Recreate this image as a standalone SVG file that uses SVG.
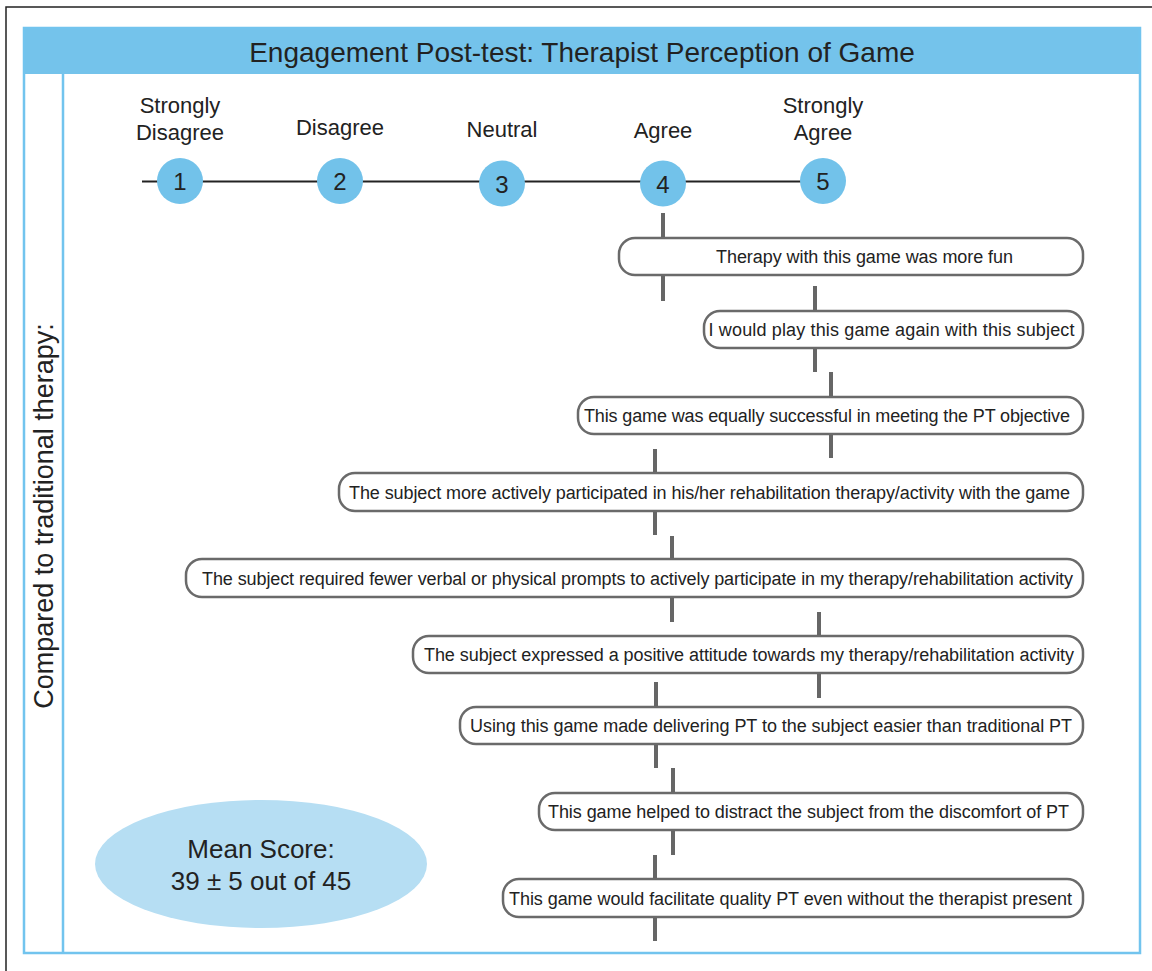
<svg xmlns="http://www.w3.org/2000/svg" width="1152" height="971" viewBox="0 0 1152 971">
<style>
text{font-family:"Liberation Sans",Arial,sans-serif;fill:#222}
.frame{fill:none;stroke:#72c4ee;stroke-width:2.5}
.circ{fill:#72c2ea}
.num{font-size:24px;text-anchor:middle}
.lab{font-size:22px;text-anchor:middle}
.box{fill:#fff;stroke:#6a6a6a;stroke-width:2.5}
.bt{font-size:18px;text-anchor:middle}
.tick{stroke:#666;stroke-width:4;fill:none}
</style>
<rect width="1152" height="971" fill="#fff"/>
<path d="M6,971 V7 H1152" fill="none" stroke="#222" stroke-width="1.5"/>
<g id="header">
<rect x="24" y="28" width="1116" height="46" fill="#74c3eb"/>
<text x="582" y="62" font-size="28" text-anchor="middle">Engagement Post-test: Therapist Perception of Game</text>
</g>
<g id="frame">
<rect class="frame" x="24" y="28" width="1116" height="925"/>
<line class="frame" x1="63" y1="74" x2="63" y2="953"/>
<text transform="translate(53,516) rotate(-90)" font-size="27" text-anchor="middle">Compared to traditional therapy:</text>
</g>
<g id="scale">
<line x1="142" y1="181.5" x2="823" y2="181.5" stroke="#222" stroke-width="2"/>
<g id="pt1"><circle class="circ" cx="180" cy="181" r="23"/><text class="num" x="180" y="190">1</text>
<text class="lab" x="180" y="113">Strongly</text><text class="lab" x="180" y="140">Disagree</text></g>
<g id="pt2"><circle class="circ" cx="340" cy="181" r="23"/><text class="num" x="340" y="190">2</text>
<text class="lab" x="340" y="135">Disagree</text></g>
<g id="pt3"><circle class="circ" cx="502" cy="183.5" r="23"/><text class="num" x="502" y="192.5">3</text>
<text class="lab" x="502" y="137">Neutral</text></g>
<g id="pt4"><circle class="circ" cx="663" cy="183.5" r="23"/><text class="num" x="663" y="192.5">4</text>
<text class="lab" x="663" y="138">Agree</text></g>
<g id="pt5"><circle class="circ" cx="823" cy="181" r="23"/><text class="num" x="823" y="190">5</text>
<text class="lab" x="823" y="113">Strongly</text><text class="lab" x="823" y="140">Agree</text></g>
</g>
<g id="connectors">
<line class="tick" x1="663" y1="213" x2="663" y2="238"/>
<line class="tick" x1="663" y1="275" x2="663" y2="301"/>
<line class="tick" x1="815" y1="286" x2="815" y2="311"/>
<line class="tick" x1="815" y1="348" x2="815" y2="372"/>
<line class="tick" x1="831" y1="372" x2="831" y2="397"/>
<line class="tick" x1="831" y1="434" x2="831" y2="458"/>
<line class="tick" x1="655" y1="449" x2="655" y2="473"/>
<line class="tick" x1="655" y1="511" x2="655" y2="535"/>
<line class="tick" x1="672" y1="536" x2="672" y2="559"/>
<line class="tick" x1="672" y1="597" x2="672" y2="622"/>
<line class="tick" x1="819" y1="612" x2="819" y2="636"/>
<line class="tick" x1="819" y1="673" x2="819" y2="698"/>
<line class="tick" x1="656" y1="682" x2="656" y2="707"/>
<line class="tick" x1="656" y1="744" x2="656" y2="768"/>
<line class="tick" x1="673" y1="768" x2="673" y2="793"/>
<line class="tick" x1="673" y1="830" x2="673" y2="855"/>
<line class="tick" x1="655" y1="855" x2="655" y2="879"/>
<line class="tick" x1="655" y1="917" x2="655" y2="941"/>
</g>
<g id="item1"><rect class="box" x="619" y="238" width="464" height="37" rx="16"/><text class="bt" x="864.5" y="263" textLength="297">Therapy with this game was more fun</text></g>
<g id="item2"><rect class="box" x="704" y="311" width="379" height="37" rx="16"/><text class="bt" x="891.5" y="336" textLength="366">I would play this game again with this subject</text></g>
<g id="item3"><rect class="box" x="578" y="397" width="505" height="37" rx="16"/><text class="bt" x="827" y="422" textLength="486">This game was equally successful in meeting the PT objective</text></g>
<g id="item4"><rect class="box" x="339" y="473" width="744" height="38" rx="16"/><text class="bt" x="709.5" y="498.5" textLength="721">The subject more actively participated in his/her rehabilitation therapy/activity with the game</text></g>
<g id="item5"><rect class="box" x="186" y="559" width="897" height="38" rx="16"/><text class="bt" x="637.5" y="584.5" textLength="871">The subject required fewer verbal or physical prompts to actively participate in my therapy/rehabilitation activity</text></g>
<g id="item6"><rect class="box" x="413" y="636" width="670" height="37" rx="16"/><text class="bt" x="749" y="661" textLength="650">The subject expressed a positive attitude towards my therapy/rehabilitation activity</text></g>
<g id="item7"><rect class="box" x="460" y="707" width="623" height="37" rx="16"/><text class="bt" x="771" y="732" textLength="602">Using this game made delivering PT to the subject easier than traditional PT</text></g>
<g id="item8"><rect class="box" x="539" y="793" width="544" height="37" rx="16"/><text class="bt" x="808.5" y="818" textLength="521">This game helped to distract the subject from the discomfort of PT</text></g>
<g id="item9"><rect class="box" x="503" y="879" width="580" height="38" rx="16"/><text class="bt" x="790.5" y="904.5" textLength="563">This game would facilitate quality PT even without the therapist present</text></g>
<g id="mean">
<ellipse cx="261" cy="864" rx="166" ry="64" fill="#b6def3"/>
<text x="261" y="858" font-size="26" text-anchor="middle">Mean Score:</text>
<text x="261" y="890" font-size="26" text-anchor="middle">39 ± 5 out of 45</text>
</g>
</svg>
